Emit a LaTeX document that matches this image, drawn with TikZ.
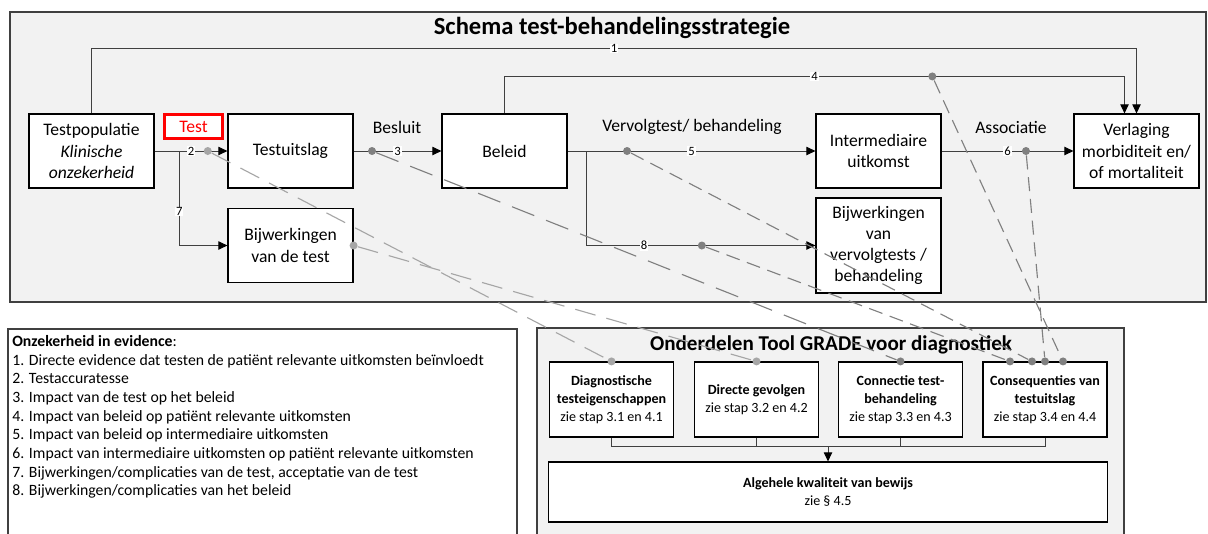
\documentclass[tikz,border=0pt]{standalone}
\usepackage{fontspec}
\setmainfont{Carlito}
\usetikzlibrary{arrows.meta,positioning,calc}
\definecolor{kader}{HTML}{F2F2F2}
\definecolor{lijn}{HTML}{404040}
\definecolor{lichtgrijs}{HTML}{A6A6A6}
\definecolor{donkergrijs}{HTML}{808080}

\begin{document}
\begin{tikzpicture}[x=0.025cm, y=-0.025cm,
    blok/.style={rectangle, draw, fill=white, line width=0.8pt, minimum width=3.125cm, minimum height=1.85cm, align=center, font=\fontsize{12.5}{15}\selectfont},
    onderdeel/.style={rectangle, draw, fill=white, line width=0.8pt, minimum width=3.1cm, minimum height=1.875cm, align=center, font=\fontsize{10}{12.6}\selectfont},
    pijl/.style={draw=lijn, line width=0.7pt, -{Triangle[length=6.5pt,width=6pt,color=black]}},
    num/.style={fill=white, inner sep=0.6pt, font=\fontsize{9}{10}\selectfont},
    label/.style={font=\fontsize{12.5}{14}\selectfont},
    dotl/.style={circle, fill=lichtgrijs, inner sep=0pt, minimum size=0.2cm},
    dotd/.style={circle, fill=donkergrijs, inner sep=0pt, minimum size=0.2cm},
    streepl/.style={draw=lichtgrijs, line width=0.8pt, dash pattern=on 15pt off 8pt},
    streepd/.style={draw=donkergrijs, line width=0.8pt, dash pattern=on 10pt off 5.5pt},
    streeplang/.style={draw=donkergrijs, line width=0.8pt, dash pattern=on 17pt off 9pt}
]
\useasboundingbox (0,0) rectangle (1208,533);

% Kader schema
\draw[fill=kader, draw=lijn, line width=1pt] (10,12) rectangle (1206,302);
\node[font=\fontsize{17.5}{19}\selectfont\bfseries] (titel) at (612,28) {Schema test-behandelingsstrategie};

% Blokken van de strategie
\node[blok] (tp) at (91.5,151) {Testpopulatie\\\textit{Klinische}\\\textit{onzekerheid}};
\node[blok] (tu) at (290.5,151) {Testuitslag};
\node[blok] (bt) at (290.5,245.5) {Bijwerkingen\\van de test};
\node[blok] (bel) at (504.5,151) {Beleid};
\node[blok] (im) at (878.5,151) {Intermediaire\\uitkomst};
\node[blok, minimum height=2.375cm] (bv) at (878.5,245.5) {Bijwerkingen\\van\\vervolgtests /\\behandeling};
\node[blok] (vm) at (1136.5,151) {Verlaging\\morbiditeit en/\\of mortaliteit};
\node[draw=red, line width=2.2pt, fill=white, text=red, minimum width=1.45cm, minimum height=0.6cm, font=\fontsize{12.5}{14}\selectfont] (tst) at (193.5,126.5) {Test};

\node[label] (lbes) at (397,127) {Besluit};
\node[label] (lvt) at (692,127) {Vervolgtest/ behandeling};
\node[label] (lass) at (1011,127) {Associatie};

% Verbindingen
\draw[pijl] (tp.north) -- ++(0,-65) -| node[num, pos=0.25] {1} (vm.north);
\draw[pijl] (bel.north) -- ++(0,-37) -| node[num, pos=0.25] {4} node[dotd, pos=0.345] (d4) {} ($(vm.north)+(-12,0)$);
\draw[pijl] (tp.east) -- node[num] {2} node[dotl, pos=0.73] (d2) {} (tu.west);
\coordinate (b7) at ($(tp.east)!0.34!(tu.west)$);
\draw[pijl] (b7) |- node[num, pos=0.32] {7} (bt.west);
\node[dotl] (d7) at (bt.east) {};
\draw[pijl] (tu.east) -- node[num] {3} node[dotd, pos=0.21] (d3) {} (bel.west);
\draw[pijl] (bel.east) -- node[num] {5} node[dotd, pos=0.24] (d5) {} (im.west);
\coordinate (b8) at ($(bel.east)!0.076!(im.west)$);
\draw[pijl] (b8) |- node[num, pos=0.626] {8} node[dotd, pos=0.752] (d8) {} (bv.west);
\draw[pijl] (im.east) -- node[num] {6} node[dotd, pos=0.64] (d6) {} (vm.west);

% Onzekerheid in evidence
\draw[draw=lijn, line width=0.8pt] (8,329) rectangle (517,545);
\node[anchor=north west, align=left, inner sep=0pt, font=\fontsize{11.2}{13.3}\selectfont] (lijst) at (12,335) {\textbf{Onzekerheid in evidence}:\\
1. Directe evidence dat testen de patiënt relevante uitkomsten beïnvloedt\\
2. Testaccuratesse\\
3. Impact van de test op het beleid\\
4. Impact van beleid op patiënt relevante uitkomsten\\
5. Impact van beleid op intermediaire uitkomsten\\
6. Impact van intermediaire uitkomsten op patiënt relevante uitkomsten\\
7. Bijwerkingen/complicaties van de test, acceptatie van de test\\
8. Bijwerkingen/complicaties van het beleid};

% Onderdelen Tool GRADE
\draw[fill=kader, draw=lijn, line width=0.8pt] (537,328) rectangle (1124,545);
\node[font=\fontsize{15}{17}\selectfont\bfseries] (gtitel) at (831,345) {Onderdelen Tool GRADE voor diagnostiek};
\node[onderdeel] (g1) at (611.5,399.5) {\textbf{Diagnostische}\\\textbf{testeigenschappen}\\zie stap 3.1 en 4.1};
\node[onderdeel] (g2) at (756.5,399.5) {\textbf{Directe gevolgen}\\zie stap 3.2 en 4.2};
\node[onderdeel] (g3) at (900.5,399.5) {\textbf{Connectie test-}\\\textbf{behandeling}\\zie stap 3.3 en 4.3};
\node[onderdeel] (g4) at (1045,399.5) {\textbf{Consequenties van}\\\textbf{testuitslag}\\zie stap 3.4 en 4.4};
\node[onderdeel, minimum width=13.95cm, minimum height=1.5cm, font=\fontsize{10}{13}\selectfont] (alg) at (828,492) {\textbf{Algehele kwaliteit van bewijs}\\zie § 4.5};
\coordinate (bus) at ($(alg.north)+(0,-15)$);
\foreach \g in {g1,g2,g3,g4}
  \draw[draw=lijn, line width=0.7pt] (\g.south) |- (bus);
\draw[pijl] (bus) -- (alg.north);

% Stippen op de onderdelen
\node[dotl] (e1) at (g1.north) {};
\node[dotl] (e2) at (g2.north) {};
\node[dotd] (e3) at (g3.north) {};
\node[dotd] (e4a) at ($(g4.north)+(-35,0)$) {};
\node[dotd] (e4b) at ($(g4.north)+(-13,0)$) {};
\node[dotd] (e4c) at (g4.north) {};
\node[dotd] (e4d) at ($(g4.north)+(18,0)$) {};

% Koppelingen naar GRADE
\draw[streepl] (d2) -- (e1);
\draw[streepl] (d7) -- (e2);
\draw[streeplang] (d3) -- (e3);
\draw[streepd] (d8) -- (e4a);
\draw[streepd] (d5) -- (e4b);
\draw[streepd] (d6) -- (e4c);
\draw[streepd] (d4) -- (e4d);

\end{tikzpicture}
\end{document}
